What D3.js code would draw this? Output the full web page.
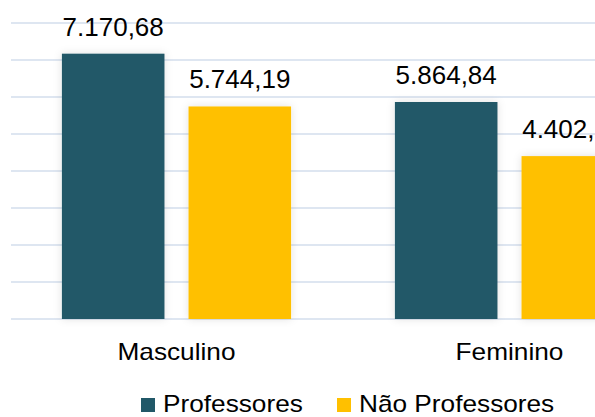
<!DOCTYPE html>
<html>
<head>
<meta charset="utf-8">
<script src="https://cdn.jsdelivr.net/npm/d3@7"></script>
<style>
  body { margin: 0; background: #fff; }
  text { font-family: "Liberation Sans", Arial, sans-serif; fill: #000; }
</style>
</head>
<body>
<div class="chart"></div>
<script>
var categories = ['Masculino', 'Feminino'],
  seriesNames = ['Professores', 'Não Professores'],
  professores = [7170.68, 5864.84],
  naoProfessores = [5744.19, 4402.50],
  yTicks = [0, 1000, 2000, 3000, 4000, 5000, 6000, 7000, 8000],
  colors = ['#215868', '#ffc000'];

var width = 595,
  height = 417;

var svg = d3.select('.chart')
  .append('svg')
    .attr('width', width)
    .attr('height', height);

// soft shadow round the bars
var filter = svg.append('defs')
  .append('filter')
    .attr('id', 'shadow')
    .attr('x', '-30%').attr('y', '-10%')
    .attr('width', '160%').attr('height', '120%');
filter.append('feGaussianBlur')
  .attr('in', 'SourceAlpha')
  .attr('stdDeviation', 4)
  .attr('result', 'blur');
filter.append('feFlood')
  .attr('flood-color', '#000')
  .attr('flood-opacity', 0.12);
filter.append('feComposite')
  .attr('in2', 'blur')
  .attr('operator', 'in')
  .attr('result', 'sh');
var merge = filter.append('feMerge');
merge.append('feMergeNode').attr('in', 'sh');
merge.append('feMergeNode').attr('in', 'SourceGraphic');

var data = categories.map((c, i) => ({
  cat: c,
  values: [professores[i], naoProfessores[i]]
}));

var x0 = d3.scaleBand()
  .domain(categories)
  .range([10, 676])
  .padding(0);

var x1 = d3.scaleBand()
  .domain(seriesNames)
  .range([0, x0.bandwidth()])
  .paddingInner(0.19)
  .paddingOuter(0.41);

var y = d3.scaleLinear()
  .domain([0, 8000])
  .range([319, 23]);

// gridlines
svg.append('g')
  .selectAll('line')
  .data(yTicks)
  .enter()
  .append('line')
    .attr('x1', 11)
    .attr('x2', width)
    .attr('y1', d => y(d))
    .attr('y2', d => y(d))
    .style('stroke', '#d3deed')
    .style('stroke-width', 1.6);

var groups = svg.selectAll('.group')
  .data(data)
  .enter()
  .append('g')
    .attr('class', 'group')
    .attr('transform', d => `translate(${x0(d.cat)}, 0)`);

groups.selectAll('rect')
  .data(d => d.values.map((v, i) => ({ key: seriesNames[i], value: v, i: i })))
  .enter()
  .append('rect')
    .attr('x', d => x1(d.key))
    .attr('y', d => y(d.value))
    .attr('width', x1.bandwidth())
    .attr('height', d => y(0) - y(d.value))
    .attr('filter', 'url(#shadow)')
    .style('fill', d => colors[d.i]);

// value labels
var fmt = d3.formatLocale({ decimal: ',', thousands: '.', grouping: [3], currency: ['', ''] }).format(',.2f');

groups.selectAll('.value')
  .data(d => d.values.map((v, i) => ({ key: seriesNames[i], value: v })))
  .enter()
  .append('text')
    .attr('class', 'value')
    .attr('x', d => x1(d.key) + x1.bandwidth() / 2)
    .attr('y', d => y(d.value) - 18)
    .style('text-anchor', 'middle')
    .style('font-size', '26px')
    .text(d => fmt(d.value));

// category labels
svg.append('g')
  .selectAll('text')
  .data(categories)
  .enter()
  .append('text')
    .attr('transform', d => `translate(${x0(d) + x0.bandwidth() / 2}, 360) scale(1.14, 1)`)
    .style('text-anchor', 'middle')
    .style('font-size', '23px')
    .text(d => d);

// legend
var legendX = [141, 337];
var legend = svg.selectAll('.legend')
  .data(seriesNames)
  .enter()
  .append('g')
    .attr('class', 'legend')
    .attr('transform', (d, i) => `translate(${legendX[i]}, 398)`);

legend.append('rect')
  .attr('width', 14)
  .attr('height', 14)
  .style('fill', (d, i) => colors[i]);

legend.append('text')
  .attr('transform', 'translate(22, 14) scale(1.14, 1)')
  .style('font-size', '23px')
  .text(d => d);
</script>
</body>
</html>
